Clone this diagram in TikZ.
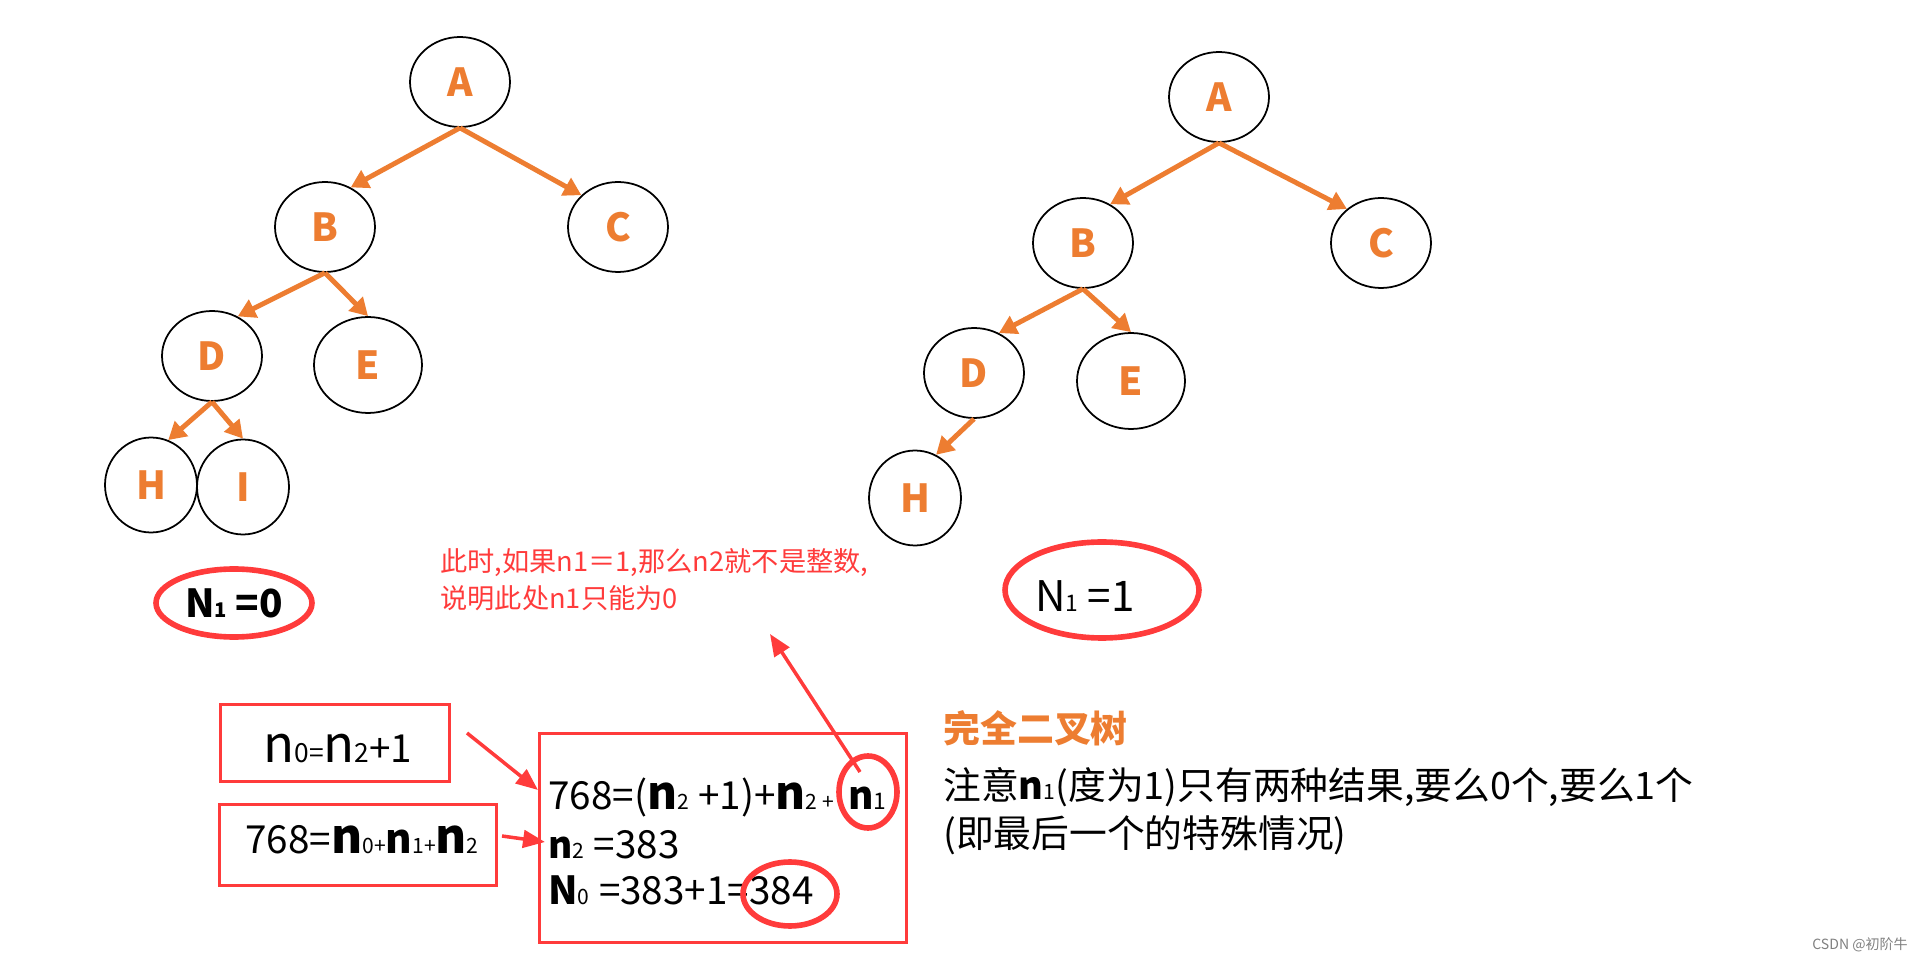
\documentclass[tikz,border=0pt]{standalone}
\usepackage{fontspec}
\setmainfont{Noto Sans CJK SC}
\usetikzlibrary{shapes.geometric,arrows.meta}
\definecolor{treeorange}{HTML}{ED7D31}
\definecolor{markred}{HTML}{FF3B3B}
\newcommand{\tsz}[2]{{\fontsize{#1}{#1}\selectfont #2}}
\tikzset{
	tnode/.style={ellipse, draw, line width=1pt, minimum width=2cm, minimum height=1.8cm, inner sep=0pt, text=treeorange, font=\fontsize{22}{24}\selectfont\bfseries},
	bignode/.style={tnode, minimum width=2.16cm, minimum height=1.92cm},
	leafnode/.style={tnode, minimum width=1.84cm, minimum height=1.9cm},
	tedge/.style={treeorange, line width=2.8pt, -{Triangle[length=10pt,width=11pt]}},
	ring/.style={ellipse, draw=markred, line width=3.2pt, inner sep=0pt},
	redbox/.style={draw=markred, line width=1.7pt, inner sep=0pt},
	redarrow/.style={markred, line width=2pt, -{Triangle[length=12.5pt,width=10pt]}},
	txt/.style={anchor=base west, inner sep=0pt}
}
\begin{document}
\begin{tikzpicture}[x=0.02cm, y=-0.02cm]
	\useasboundingbox (0,0) rectangle (1925,962);
	% arbol izquierdo, N1 = 0
	\node[tnode] (lA) at (460,82) {A};
	\node[tnode] (lB) at (325,227) {B};
	\node[tnode] (lC) at (618,227) {C};
	\node[tnode] (lD) at (212,356) {D};
	\node[bignode] (lE) at (368,365) {E};
	\node[leafnode] (lH) at (151,485) {H};
	\node[leafnode] (lI) at (243,487) {I};
	\draw[tedge] (lA.south) -- (lB.57);
	\draw[tedge] (lA.south) -- (lC.139);
	\draw[tedge] (lB.south) -- (lD.57);
	\draw[tedge] (lB.south) -- (lE.north);
	\draw[tedge] (lD.south) -- (lH.69);
	\draw[tedge] (lD.south) -- (lI.north);
	\node[ring, minimum width=3.12cm, minimum height=1.36cm] (cnt0) at (234,603) {\tsz{22}{\bfseries N}\tsz{11.5}{\bfseries 1}\tsz{22}{\bfseries\ =0}};
	% arbol derecho, N1 = 1
	\node[tnode] (rA) at (1219,97) {A};
	\node[tnode] (rB) at (1083,243) {B};
	\node[tnode] (rC) at (1381,243) {C};
	\node[tnode] (rD) at (974,373) {D};
	\node[bignode] (rE) at (1131,381) {E};
	\node[leafnode] (rH) at (915,498) {H};
	\draw[tedge] (rA.south) -- (rB.55);
	\draw[tedge] (rA.south) -- (rC.135);
	\draw[tedge] (rB.south) -- (rD.58);
	\draw[tedge] (rB.south) -- (rE.north);
	\draw[tedge] (rD.south) -- (rH.64);
	\node[ring, minimum width=3.88cm, minimum height=1.92cm] (ring1) at (1102,590) {};
	\node[txt] (cnt1) at (1035,612) {\tsz{24}{N}\tsz{13}{1}\tsz{24}{\ =1}};
	% nota roja
	\node[txt, text=markred, font=\fontsize{15.5}{17}\selectfont] (note1) at (440,572) {此时,如果n1＝1,那么n2就不是整数,};
	\node[txt, text=markred, font=\fontsize{15.5}{17}\selectfont] (note2) at (440,609) {说明此处n1只能为0};
	% cajas con las cuentas
	\node[redbox, minimum width=4.6cm, minimum height=1.56cm] (box1) at (335,743) {};
	\node[redbox, minimum width=5.56cm, minimum height=1.64cm] (box2) at (358,845) {};
	\node[redbox, minimum width=7.34cm, minimum height=4.2cm] (box3) at (723,838) {};
	\node[txt] (eq1) at (263,763) {\tsz{29}{n}\tsz{15}{0=}\tsz{29}{n}\tsz{15}{2}\tsz{22}{+1}};
	\node[txt] (eq2) at (245,853) {\tsz{22}{768=}\tsz{27}{\bfseries n}\tsz{12}{0+}\tsz{23}{\bfseries n}\tsz{12}{1+}\tsz{27}{\bfseries n}\tsz{12}{2}};
	\node[txt] (eq3) at (548,809) {\tsz{22}{768=(}\tsz{26}{\bfseries n}\tsz{12}{2\ \ }\tsz{22}{+1)+}\tsz{26}{\bfseries n}\tsz{12}{2 +\ \ \ }\tsz{22}{\bfseries n}\tsz{13}{1}};
	\node[txt] (eq4) at (548,858) {\tsz{21}{\bfseries n}\tsz{12}{2\ \ }\tsz{22}{=383}};
	\node[txt] (eq5) at (548,904) {\tsz{22}{\bfseries N}\tsz{12}{0\ \ }\tsz{22}{=383+1=384}};
	\node[ring, minimum width=1.16cm, minimum height=1.44cm] (ringn1) at (868,792) {};
	\node[ring, minimum width=1.88cm, minimum height=1.28cm] (ring384) at (790,894) {};
	\coordinate (from1) at (467,733);
	\coordinate (to1) at (538,790);
	\coordinate (from2) at (502,836);
	\coordinate (to2) at (545,842);
	\coordinate (from3) at (860,772);
	\coordinate (to3) at (770,634);
	\draw[redarrow] (from1) -- (to1);
	\draw[redarrow] (from2) -- (to2);
	\draw[redarrow] (from3) -- (to3);
	% texto de la derecha
	\node[txt, text=treeorange, font=\fontsize{21}{24}\selectfont\bfseries] (title) at (943,743) {完全二叉树};
	\node[txt, font=\fontsize{21.5}{24}\selectfont] (line1) at (943,800) {注意{\bfseries n}\tsz{12}{1}(度为1)只有两种结果,要么0个,要么1个};
	\node[txt, font=\fontsize{21.5}{24}\selectfont] (line2) at (943,847) {(即最后一个的特殊情况)};
	\node[txt, text=gray, font=\fontsize{8}{9}\selectfont] (mark) at (1812,949) {CSDN @初阶牛};
\end{tikzpicture}
\end{document}
